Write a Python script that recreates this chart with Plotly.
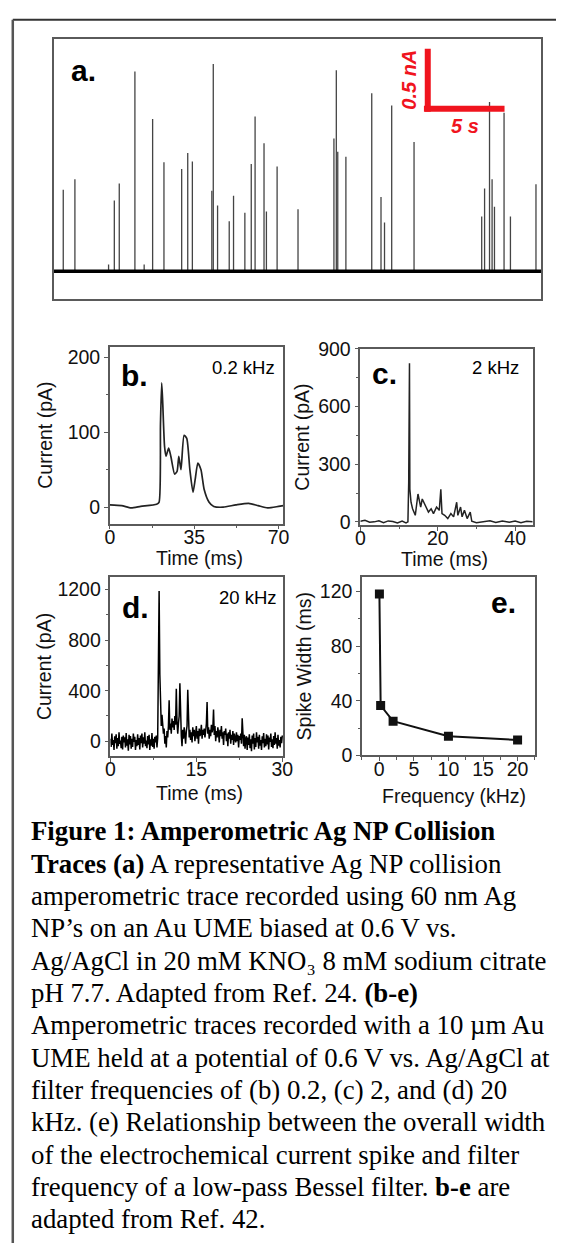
import plotly.graph_objects as go

W, H = 566, 1254

# ---------------- data ----------------
# (a) collision trace: spike times (s) and heights (nA)
spike_t = [0.6, 1.33, 3.44, 3.8, 4.11, 5.09, 5.67, 6.2, 6.91, 8.02, 8.4, 8.69, 9.91, 10.0, 10.27,
           11.0, 11.27, 11.98, 12.38, 12.62, 13.18, 13.33, 14.0, 15.31, 17.56, 17.71, 17.8, 18.31,
           19.93, 20.51, 20.73, 21.18, 22.58, 26.82, 27.0, 27.31, 27.47, 27.62, 28.22, 28.62, 30.22]
spike_h = [0.67, 0.755, 0.056, 0.58, 0.72, 1.64, 0.056, 1.25, 0.895, 0.84, 0.97, 0.90, 0.66, 1.70, 0.54,
           0.41, 0.62, 0.48, 0.88, 1.27, 1.05, 0.49, 0.86, 0.51, 1.09, 1.65, 0.98, 0.94,
           1.46, 0.61, 0.40, 1.36, 1.06, 0.45, 0.68, 1.39, 0.755, 0.53, 1.30, 0.45, 0.715]
base_t = [0, 30.56]
base_i = [0, 0]

# (b) 0.2 kHz trace
b_t = [0, 4.9, 8.8, 12.8, 19.4, 20.4, 21.0, 21.5, 21.9, 22.7, 23.3, 24.4, 25.3, 26.9, 27.9, 28.6,
       29.5, 30.8, 31.9, 33.2, 34.5, 35.4, 36.5, 37.8, 39.1, 41.1, 43.1, 47.0, 52.3, 57.6, 61.5, 65.5, 70.0, 72.0]
b_i = [3, 2, -1, 1, 4, 6.5, 111, 166, 142, 81, 68, 79, 68, 44, 48, 68,
       50, 96, 92, 50, 20, 37, 59, 50, 24, 7, 1, 0, 3, 5, 2, -1, 1, 2]

# (c) 2 kHz trace
c_t = [0, 1.2, 2.4, 3.6, 4.8, 6.0, 7.2, 8.4, 9.6, 10.8, 11.8, 12.3, 12.5, 12.7, 12.8, 13.1, 13.5,
       14.2, 14.9, 15.6, 16.0, 16.8, 17.6, 18.3, 18.9, 19.7, 20.4, 20.8, 21.1, 21.8, 22.6, 23.4,
       24.1, 24.9, 25.2, 25.9, 26.3, 26.9, 27.6, 28.4, 28.8, 30.0, 31.7, 33.5, 35.0, 36.7, 38.5,
       40.0, 41.5, 43.0, 44.5]
c_i = [3, 8, -2, 0, 6, -4, 5, 2, -6, 4, -5, 0, 204, 826, 170, 102, 68,
       34, 145, 77, 119, 85, 51, 68, 43, 77, 60, 170, 43, 34, 17, 43,
       26, 102, 34, 77, 26, 60, 17, 51, 3, -4, 0, 6, -3, 5, -2,
       4, -5, 3, 1]

# (d) 20 kHz trace, sampled every 0.125 ms
d_dt = 0.125
d_i = [20, -45, 60, -30, 10, -70, 40, -15, 55, -60, 25, -40, 70, -20, 5, -55, 35, -65, 45, -10,
       30, -50, 65, -35, 15, -75, 50, -25, 40, -60, 20, -45, 60, -5, 35, -70, 10, -40, 55, -30,
       25, -65, 45, -15, 60, -50, 30, -20, 70, -40, 5, -55, 40, -25, 50, -70, 15, -35, 65, -45,
       20, -60, 35, -10, 45, -50, 25,
       750, 1190, 530, 280, 120, 210, 150, 60, 100, -20, 40, -50, 80, 30, 120, 324, 90, 140, 60,
       180, 110, 160, 90, 200, 130, 415, 150, 60, 140, 200, 459, 120, 40, -40, 90, 20, 110, 50,
       -20, 80, 120, 407, 100, 30, 90, 10, 70, -10, 110, 40, 90, 0, 60, 120, 20, 80, -20, 100,
       40, 60, 130, 20, 90, 50, 100, 30, 80, 140, 311, 60, 110, 20, 90, 40, 130, 70, 100, 251,
       50, 120, 0, 80, 30, 110, 60, -10, 90, 40, 120, 20, 70, -30, 80, 50, 100, 0, 60, -40,
       70, 20, 90, -20, 50, 10, 80, -30, 60, 30, -10, 70, 0, 50, -50, 40, 10, 60, -20, 181,
       30, -40, 50, -60, 20, 40, -70, 30, -30, 55, -55, 15, -80, 45, -20, 60, -65, 25, -45, 70,
       -10, 35, -60, 50, -35, 10, -70, 40, -15, 65, -50, 20, -40, 55, -25, 45, -65, 30, -5, 60,
       -45, 15, -55, 40, -30, 70, -20, 25, -60, 50, -35, 10, -50, 35, -15, 45]
d_t = [k * d_dt for k in range(len(d_i))]

# (e) spike width vs filter frequency
e_f = [0.02, 0.2, 2, 10, 20]
e_w = [118, 36.5, 25, 14, 11.3]

# ---------------- helpers ----------------
def xd(x0, x1):
    return [x0 / W, x1 / W]

def yd(y0, y1):
    return [1 - y1 / H, 1 - y0 / H]

def px(x):
    return x / W

def py(y):
    return 1 - y / H

SANS = "Liberation Sans, Arial, sans-serif"
SERIF = "Liberation Serif, Times New Roman, serif"
AX = "#5a5a5a"
TXT = "#111111"

fig = go.Figure()

# (a)
sx, sy = [], []
for t, h in zip(spike_t, spike_h):
    sx += [t, t, None]
    sy += [0, h, None]
fig.add_trace(go.Scatter(x=sx, y=sy, mode="lines", line=dict(color="#444", width=1.3),
                         xaxis="x", yaxis="y", showlegend=False, hoverinfo="skip"))
fig.add_trace(go.Scatter(x=base_t, y=base_i, mode="lines", line=dict(color="#000", width=3.5),
                         xaxis="x", yaxis="y", showlegend=False))
# (b)
fig.add_trace(go.Scatter(x=b_t, y=b_i, mode="lines", line=dict(color="#222", width=1.7, shape="spline", smoothing=0.6),
                         xaxis="x2", yaxis="y2", showlegend=False))
# (c)
fig.add_trace(go.Scatter(x=c_t, y=c_i, mode="lines", line=dict(color="#222", width=1.5),
                         xaxis="x3", yaxis="y3", showlegend=False))
# (d)
fig.add_trace(go.Scatter(x=d_t, y=d_i, mode="lines", line=dict(color="#000", width=1.5),
                         xaxis="x4", yaxis="y4", showlegend=False))
# (e)
fig.add_trace(go.Scatter(x=e_f, y=e_w, mode="lines+markers", line=dict(color="#111", width=2),
                         marker=dict(symbol="square", size=9, color="#111"),
                         xaxis="x5", yaxis="y5", showlegend=False))

tickfont = dict(family=SANS, size=19.5, color=TXT)
titlefont = dict(family=SANS, size=19.5, color=TXT)

def ax(domain, rng, dtick=None, minor=None, anchor=None, title=None, standoff=4, labels=True, lso=0):
    d = dict(domain=domain, range=rng, showline=True, mirror=True, linecolor=AX, linewidth=1.5,
             showgrid=False, zeroline=False, anchor=anchor, tickfont=tickfont)
    if labels:
        d.update(ticks="outside", ticklen=4, tickwidth=1.3, tickcolor=AX, dtick=dtick, tick0=0,
                 ticklabelstandoff=lso,
                 minor=dict(ticks="outside", ticklen=2.5, tickwidth=1.1, tickcolor=AX, dtick=minor, tick0=0))
    else:
        d.update(ticks="", showticklabels=False)
    if title:
        d.update(title=dict(text=title, font=titlefont, standoff=standoff))
    return d

fig.update_layout(
    width=W, height=H, margin=dict(l=0, r=0, t=0, b=0),
    paper_bgcolor="white", plot_bgcolor="white", showlegend=False,
    xaxis=ax(xd(50, 551), [0, 30.56], anchor="y", labels=False),
    yaxis=ax(yd(28, 293), [-0.226, 1.91], anchor="x", labels=False),
    xaxis2=ax(xd(107.7, 286), [0, 72], 35, 17.5, "y2", lso=-9),
    yaxis2=ax(yd(341.7, 521.7), [-21.9, 214.4], 100, 50, "x2", "Current (pA)", 10),
    xaxis3=ax(xd(365, 542.3), [0, 44.6], 20, 10, "y3", lso=-9),
    yaxis3=ax(yd(344, 523.3), [-17, 900], 300, 150, "x3", "Current (pA)", 3),
    xaxis4=ax(xd(108.3, 286), [0, 30.2], 15, 7.5, "y4", lso=-9),
    yaxis4=ax(yd(576, 758.3), [-117, 1301], 400, 200, "x4", "Current (pA)", 1),
    xaxis5=ax(xd(366.7, 544.3), [-2.5, 22.5], 5, 2.5, "y5", lso=-9),
    yaxis5=ax(yd(576, 757.7), [0, 130.6], 40, 20, "x5", "Spike Width (ms)", 3),
)

# scale bar in panel a (data coordinates)
RED = "#f0141e"
fig.add_shape(type="line", xref="x", yref="y", x0=23.44, x1=23.44, y0=1.825, y1=1.31,
              line=dict(color=RED, width=6))
fig.add_shape(type="line", xref="x", yref="y", x0=23.2, x1=28.25, y0=1.333, y1=1.333,
              line=dict(color=RED, width=6))

ann = []
ann.append(dict(x=22.25, y=1.57, xref="x", yref="y", text="<b><i>0.5 nA</i></b>", textangle=-90,
                xanchor="center", yanchor="middle",
                showarrow=False, font=dict(family=SANS, size=20, color=RED)))
ann.append(dict(x=25.8, y=1.19, xref="x", yref="y", text="<b><i>5 s</i></b>",
                xanchor="center", yanchor="middle",
                showarrow=False, font=dict(family=SANS, size=20, color=RED)))

def lab(x, y, text, size=30, bold=True, color="#000"):
    ann.append(dict(x=px(x), y=py(y), xref="paper", yref="paper", showarrow=False,
                    xanchor="center", yanchor="middle",
                    text=("<b>%s</b>" % text) if bold else text,
                    font=dict(family=SANS, size=size, color=color)))

lab(81, 61, "a.")
lab(133, 371, "b.")
lab(245, 363, "0.2 kHz", 18.5, False)
lab(389.5, 369, "c.")
lab(504, 363, "2 kHz", 18.5, False)
lab(134, 607, "d.")
lab(250, 597, "20 kHz", 18.5, False)
lab(511.7, 602, "e.")

# x-axis titles
lab(200, 557, "Time (ms)", 19.5, False, TXT)
lab(451.5, 558, "Time (ms)", 19.5, False, TXT)
lab(200, 796, "Time (ms)", 19.5, False, TXT)
lab(461, 799, "Frequency (kHz)", 19.5, False, TXT)

# caption
cap_lines = [
    "<b>Figure 1: Amperometric Ag NP Collision</b>",
    "<b>Traces (a)</b> A representative Ag NP collision",
    "amperometric trace recorded using 60 nm Ag",
    "NP’s on an Au UME biased at 0.6 V vs.",
    "Ag/AgCl in 20 mM KNO₃ 8 mM sodium citrate",
    "pH 7.7. Adapted from Ref. 24. <b>(b-e)</b>",
    "Amperometric traces recorded with a 10 µm Au",
    "UME held at a potential of 0.6 V vs. Ag/AgCl at",
    "filter frequencies of (b) 0.2, (c) 2, and (d) 20",
    "kHz. (e) Relationship between the overall width",
    "of the electrochemical current spike and filter",
    "frequency of a low-pass Bessel filter. <b>b-e</b> are",
    "adapted from Ref. 42.",
]
for k, line in enumerate(cap_lines):
    ann.append(dict(x=px(25), y=py(835 + k * 32.9), xref="paper", yref="paper", xanchor="left",
                    yanchor="middle", showarrow=False, text=line,
                    font=dict(family=SERIF, size=26.8, color="#000")))

fig.update_layout(annotations=ann)

# outer frame
fig.add_shape(type="line", xref="paper", yref="paper", x0=px(8), x1=1, y0=py(9), y1=py(9),
              line=dict(color="#333", width=2))
fig.add_shape(type="line", xref="paper", yref="paper", x0=px(8), x1=px(8), y0=py(9), y1=0,
              line=dict(color="#555", width=2.5))

fig.write_html("out.html", config={"displayModeBar": False},
               post_script="document.body.style.margin='0';document.body.style.overflow='hidden';")
